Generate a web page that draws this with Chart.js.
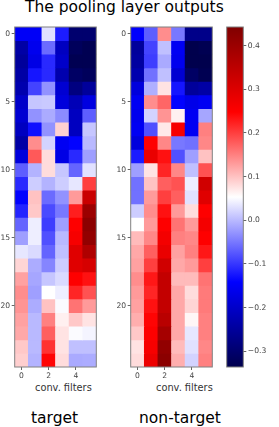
<!DOCTYPE html>
<html><head><meta charset="utf-8">
<style>
html,body{margin:0;padding:0;background:#fff;width:279px;height:427px;overflow:hidden}
canvas{position:absolute;filter:blur(0.3px)}
.t{position:absolute;font-family:"DejaVu Sans";color:#000;white-space:nowrap;line-height:1}
</style>
<script src="https://cdn.jsdelivr.net/npm/chart.js@4"></script>
</head><body>
<div class="t" style="left:25px;top:0px;font-size:15.5px">The pooling layer outputs</div>
<div class="t" style="left:35px;top:383px;font-size:9.8px;color:#333">conv. filters</div>
<div class="t" style="left:156px;top:383px;font-size:9.8px;color:#333">conv. filters</div>
<div class="t" style="left:31px;top:411px;font-size:15.5px">target</div>
<div class="t" style="left:139px;top:411px;font-size:15.5px">non-target</div>
<canvas id="c1" width="110" height="373" style="left:0;top:17px"></canvas>
<canvas id="c2" width="110" height="373" style="left:116px;top:17px"></canvas>
<canvas id="c3" width="53" height="373" style="left:226px;top:17px"></canvas>
<script>
const filterLabels=['0','1','2','3','4','5'];
const rowTicks=[0,5,10,15,20];
const colorbarTicks=[-0.3,-0.2,-0.1,0,0.1,0.2,0.3,0.4];
const vmin=-0.336, vmax=0.4425;
const targetValues=[
[-0.15,-0.15,0.03,-0.12,-0.30,-0.30],
[-0.24,-0.16,-0.06,-0.21,-0.32,-0.33],
[-0.25,-0.17,-0.11,-0.20,-0.33,-0.33],
[-0.24,-0.125,-0.11,-0.23,-0.31,-0.32],
[-0.23,-0.09,-0.03,-0.19,-0.28,-0.25],
[-0.20,0.01,0.012,-0.18,-0.22,-0.175],
[-0.19,-0.03,-0.011,-0.035,-0.21,-0.07],
[-0.21,-0.13,-0.03,0.088,-0.21,0.01],
[-0.24,0.14,0.02,-0.155,-0.14,0],
[-0.18,0.18,0.08,-0.17,-0.11,-0.02],
[-0.07,-0.005,0.08,0.01,-0.065,0.03],
[-0.11,0.015,-0.005,0.015,0.035,0.20],
[-0.14,0.10,-0.06,-0.03,0.13,0.33],
[-0.115,0.095,-0.085,-0.05,0.225,0.40],
[-0.065,0.04,-0.095,-0.02,0.25,0.425],
[-0.02,0.04,-0.08,0,0.26,0.415],
[0.035,0.025,-0.065,0.005,0.295,0.37],
[0.085,-0.01,-0.04,0.015,0.295,0.31],
[0.125,-0.015,0.01,0.025,0.25,0.235],
[0.14,-0.02,0.053,0.04,0.22,0.185],
[0.135,-0.01,0.10,0.05,0.16,0.13],
[0.125,0,0.15,0.065,0.095,0.075],
[0.12,0,0.175,0.075,0.05,0.045],
[0.095,0,0.21,0.075,0.005,0.005],
[0.09,-0.005,0.245,0.08,-0.012,-0.01]];
const nonTargetValues=[
[-0.145,-0.07,0.14,-0.05,-0.27,-0.27],
[-0.25,-0.09,0.005,-0.155,-0.335,-0.33],
[-0.245,-0.095,-0.012,-0.16,-0.335,-0.335],
[-0.23,-0.055,0.005,-0.19,-0.31,-0.33],
[-0.18,-0.008,0.075,-0.125,-0.25,-0.24],
[-0.155,0.14,0.17,-0.14,-0.165,-0.155],
[-0.16,0.02,0.135,0.065,-0.155,-0.015],
[-0.155,-0.08,0.07,0.26,-0.155,0.15],
[-0.18,0.25,0.145,-0.05,-0.055,0.145],
[-0.12,0.28,0.235,-0.08,-0.02,0.10],
[-0.02,0.075,0.22,0.145,0.005,0.185],
[-0.055,0.10,0.175,0.185,0.04,0.32],
[-0.055,0.13,0.20,0.175,0.03,0.295],
[0.015,0.14,0.235,0.13,0.08,0.25],
[0.053,0.13,0.25,0.16,0.13,0.265],
[0.105,0.145,0.265,0.15,0.145,0.25],
[0.12,0.175,0.28,0.125,0.15,0.23],
[0.125,0.20,0.32,0.12,0.13,0.20],
[0.14,0.23,0.34,0.105,0.105,0.16],
[0.13,0.22,0.34,0.12,0.08,0.155],
[0.125,0.235,0.34,0.12,0.085,0.155],
[0.115,0.245,0.355,0.12,0.06,0.15],
[0.095,0.25,0.385,0.12,0.035,0.15],
[0.075,0.26,0.415,0.105,0.03,0.145],
[0.08,0.275,0.425,0.115,0.02,0.15]];
const cmapStops=[[0,[0,0,76.5]],[0.25,[0,0,255]],[0.5,[255,255,255]],[0.75,[255,0,0]],[1,[127.5,0,0]]];
function seismic(v){
  const t=Math.max(0,Math.min(1,(v-vmin)/(vmax-vmin)));
  for(let i=1;i<cmapStops.length;i++){
    if(t<=cmapStops[i][0]){
      const [a,ca]=cmapStops[i-1],[b,cb]=cmapStops[i],f=(t-a)/(b-a);
      return `rgb(${ca.map((c,k)=>Math.round(c+(cb[k]-c)*f)).join(',')})`;
    }
  }
  return 'rgb(128,0,0)';
}
const frameColor='#808080', tickText='#444', tickFont={family:'DejaVu Sans',size:7.6};
const frame={id:'frame',afterDraw(ch){const a=ch.chartArea,c=ch.ctx;c.save();c.strokeStyle=frameColor;c.lineWidth=1;
  c.strokeRect(a.left,a.top,a.right-a.left,a.bottom-a.top);c.restore();}};
const PLOT_H=340, CANVAS_H=373, TOP_PAD=10;
function heat(id,values,plotLeft){
  const datasets=values.map((row,r)=>({
    data:row.map(()=>[r-0.5,r+0.5]),
    backgroundColor:row.map(seismic),
    barPercentage:1,categoryPercentage:1,grouped:false,borderWidth:0
  }));
  new Chart(document.getElementById(id),{
    type:'bar',
    data:{labels:filterLabels,datasets},
    options:{responsive:false,animation:false,events:[],
      layout:{padding:{top:TOP_PAD,left:0,right:110-plotLeft-81.6,bottom:0}},
      plugins:{legend:{display:false},tooltip:{enabled:false}},
      scales:{
        x:{type:'category',offset:true,
          grid:{offset:false,drawOnChartArea:false,drawTicks:true,tickLength:3,
            tickColor:c=>c.index%2?'rgba(0,0,0,0)':'#666'},
          border:{display:false},
          ticks:{color:tickText,font:tickFont,padding:1.5,maxRotation:0,autoSkip:false,
            callback:(v,i)=>i%2?'':filterLabels[i]},
          afterFit:s=>{s.height=CANVAS_H-PLOT_H-TOP_PAD;}},
        y:{type:'linear',reverse:true,min:-0.5,max:24.5,
          afterBuildTicks:s=>{s.ticks=rowTicks.map(v=>({value:v}));},
          grid:{drawOnChartArea:false,tickLength:3,tickColor:'#666'},
          border:{display:false},
          ticks:{color:tickText,font:tickFont,padding:1.5},
          afterFit:s=>{s.width=plotLeft;}}
      }},
    plugins:[frame]
  });
}
heat('c1',targetValues,14.7);
heat('c2',nonTargetValues,14.7);
new Chart(document.getElementById('c3'),{
  type:'bar',
  data:{labels:['colorbar'],datasets:[{data:[[vmin,vmax]],barPercentage:1,categoryPercentage:1,borderWidth:0,
    backgroundColor:c=>{
      const a=c.chart.chartArea; if(!a) return '#fff';
      const g=c.chart.ctx.createLinearGradient(0,a.bottom,0,a.top);
      cmapStops.forEach(([t,col])=>g.addColorStop(t,`rgb(${col.join(',')})`));
      return g;
    }}]},
  options:{responsive:false,animation:false,events:[],
    layout:{padding:{top:TOP_PAD,left:0.7,right:0,bottom:CANVAS_H-PLOT_H-TOP_PAD}},
    plugins:{legend:{display:false},tooltip:{enabled:false}},
    scales:{
      x:{display:false,offset:true},
      y:{type:'linear',position:'right',min:vmin,max:vmax,
        afterBuildTicks:s=>{s.ticks=colorbarTicks.map(v=>({value:v}));},
        grid:{drawOnChartArea:false,tickLength:3,tickColor:'#666'},
        border:{display:false},
        ticks:{color:tickText,font:tickFont,padding:1.5,
          callback:v=>(v<-1e-9?'\u2212':'')+Math.abs(v).toFixed(1)},
        afterFit:s=>{s.width=53-0.7-16.6;}}
    }},
  plugins:[frame]
});
</script>
</body></html>
